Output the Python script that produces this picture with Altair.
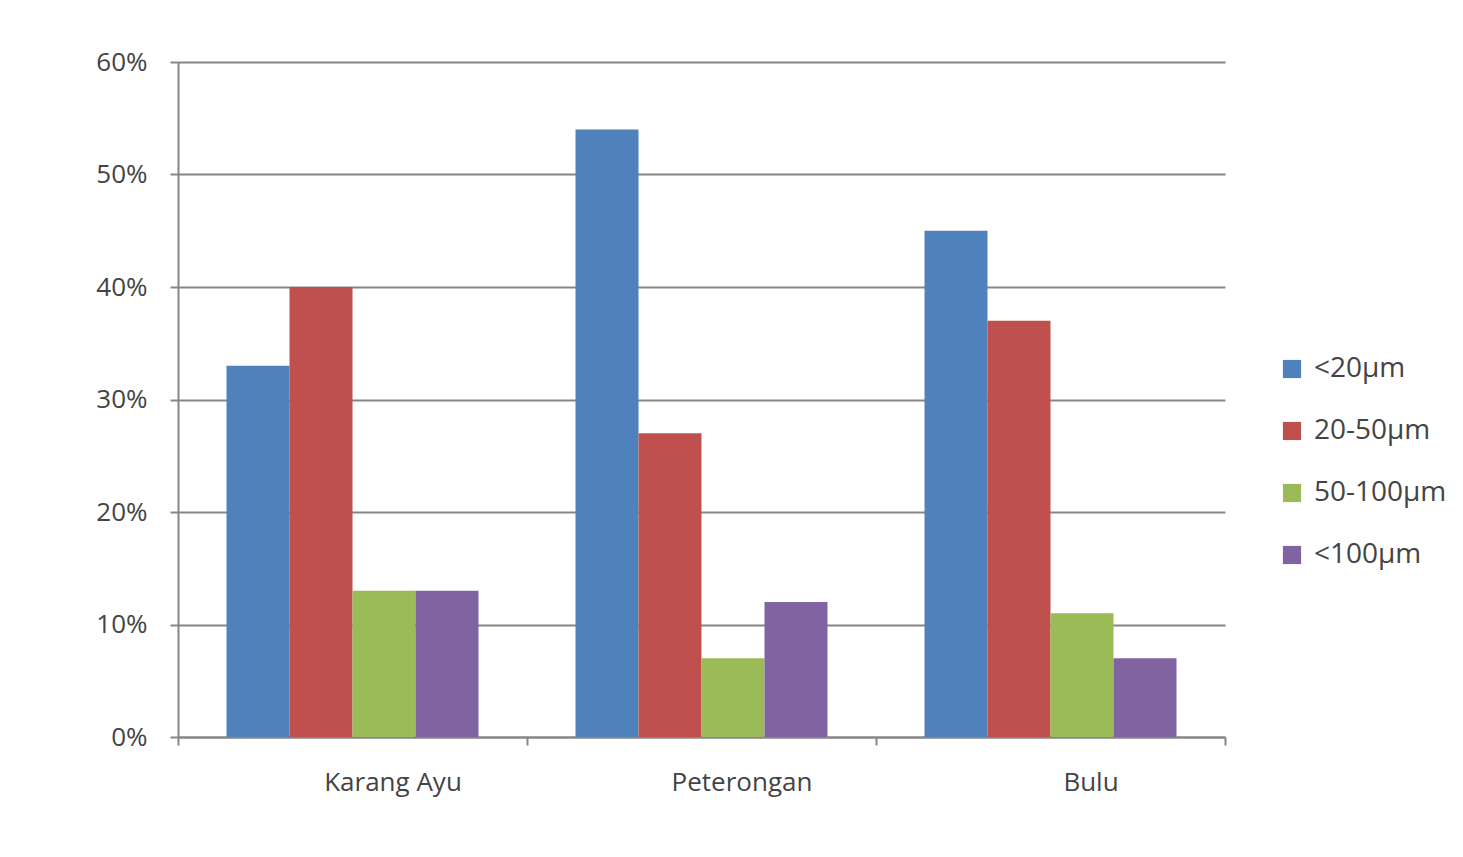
import altair as alt
import pandas as pd

# Particle size distribution per site
sites = ["Karang Ayu", "Peterongan", "Bulu"]
size_classes = ["<20µm", "20-50µm", "50-100µm", "<100µm"]
lt20 = [0.33, 0.54, 0.45]
r20_50 = [0.40, 0.27, 0.37]
r50_100 = [0.13, 0.07, 0.11]
lt100 = [0.13, 0.12, 0.07]
colors = ["#4F81BD", "#C0504D", "#9BBB59", "#8064A2"]

series = [lt20, r20_50, r50_100, lt100]
rows = []
for cls, vals in zip(size_classes, series):
    for site, v in zip(sites, vals):
        rows.append({"site": site, "size": cls, "share": v})
df = pd.DataFrame(rows)

FONT = "Open Sans"
GRAY = "#868686"
TEXT = "#444444"

chart = (
    alt.Chart(df)
    .mark_bar()
    .encode(
        x=alt.X(
            "site:N",
            sort=sites,
            title=None,
            scale=alt.Scale(paddingInner=0, paddingOuter=0),
            axis=alt.Axis(
                labelAngle=0,
                labelOffset=40,
                tickBand="extent",
                tickSize=8,
                labelPadding=24,
                domainColor=GRAY,
                domainWidth=2,
                tickColor=GRAY,
                tickWidth=2,
            ),
        ),
        xOffset=alt.XOffset(
            "size:N",
            sort=size_classes,
            scale=alt.Scale(paddingInner=0, paddingOuter=0.77),
        ),
        y=alt.Y(
            "share:Q",
            title=None,
            scale=alt.Scale(domain=[0, 0.6]),
            axis=alt.Axis(
                format=".0%",
                values=[0, 0.1, 0.2, 0.3, 0.4, 0.5, 0.6],
                tickSize=8,
                labelPadding=23,
                domainColor=GRAY,
                domainWidth=2,
                tickColor=GRAY,
                tickWidth=2,
                gridColor=GRAY,
                gridWidth=2,
            ),
        ),
        color=alt.Color(
            "size:N",
            sort=size_classes,
            scale=alt.Scale(domain=size_classes, range=colors),
            legend=alt.Legend(
                title=None,
                orient="none",
                legendX=1100,
                legendY=293,
                symbolType="square",
                symbolSize=330,
                symbolStrokeWidth=0,
                labelFontSize=28,
                labelFont=FONT,
                labelColor=TEXT,
                labelFontWeight=500,
                rowPadding=34,
                labelOffset=8,
            ),
        ),
    )
    .properties(
        width=1047,
        height=675,
        autosize=alt.AutoSizeParams(type="none"),
        padding={"left": 178, "top": 62, "right": 238, "bottom": 120},
        background="white",
    )
    .configure_axis(
        labelFont=FONT,
        labelFontSize=26,
        labelColor=TEXT,
        labelFontWeight=500,
    )
    .configure_view(stroke=None)
)

chart.save("out.html", embed_options={"renderer": "svg", "actions": False})
